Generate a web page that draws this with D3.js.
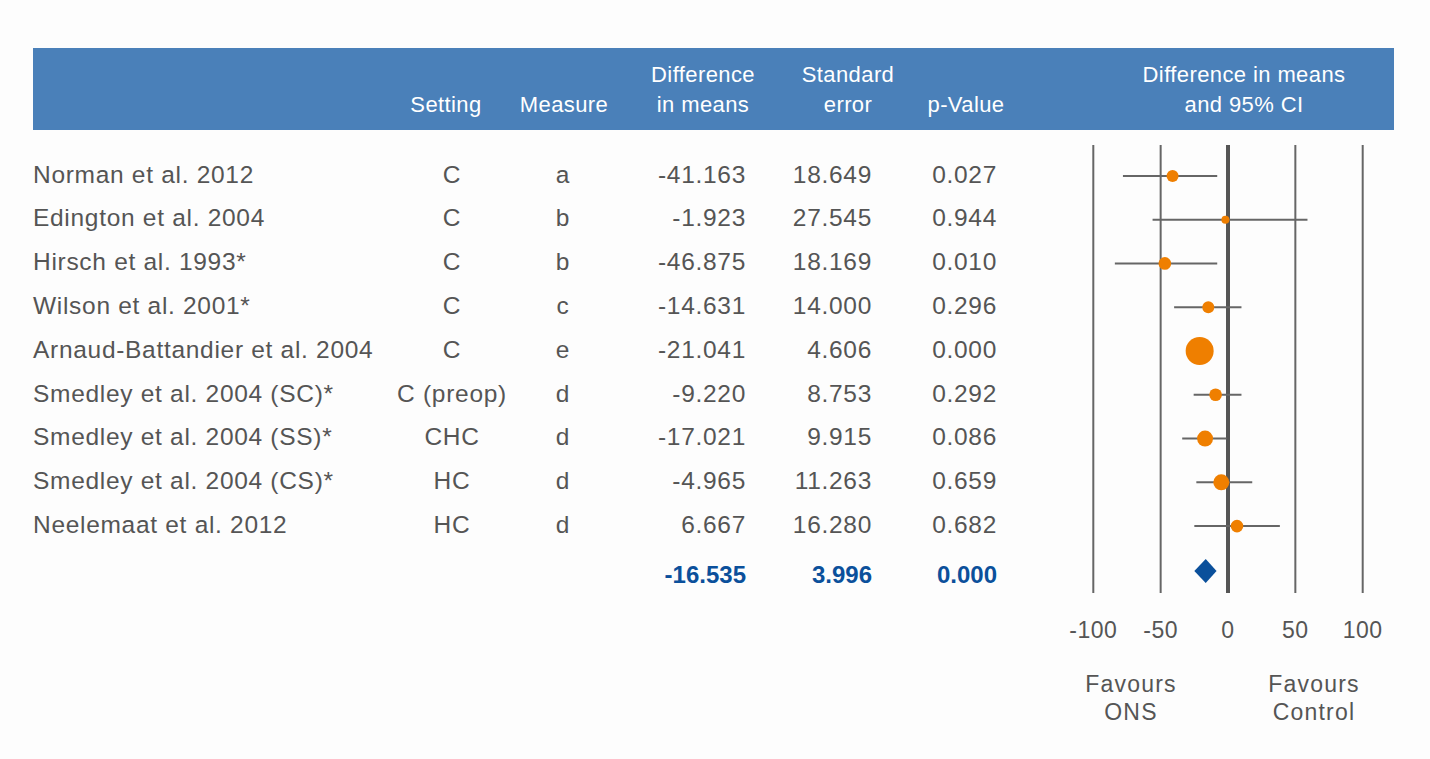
<!DOCTYPE html>
<html>
<head>
<meta charset="utf-8">
<script src="https://cdn.jsdelivr.net/npm/d3@7"></script>
<style>
  body { margin: 0; background: #fdfdfd; }
  svg { display: block; font-family: "Liberation Sans", Arial, sans-serif; }
</style>
</head>
<body>
<svg id="chart" width="1430" height="759"></svg>
<script>
// Data
const studies = [
  "Norman et al. 2012",
  "Edington et al. 2004",
  "Hirsch et al. 1993*",
  "Wilson et al. 2001*",
  "Arnaud-Battandier et al. 2004",
  "Smedley et al. 2004 (SC)*",
  "Smedley et al. 2004 (SS)*",
  "Smedley et al. 2004 (CS)*",
  "Neelemaat et al. 2012"
];
const settings = ["C", "C", "C", "C", "C", "C (preop)", "CHC", "HC", "HC"];
const measures = ["a", "b", "b", "c", "e", "d", "d", "d", "d"];
const diffs = [-41.163, -1.923, -46.875, -14.631, -21.041, -9.22, -17.021, -4.965, 6.667];
const stdErrs = [18.649, 27.545, 18.169, 14.0, 4.606, 8.753, 9.915, 11.263, 16.28];
const pValues = [0.027, 0.944, 0.01, 0.296, 0.0, 0.292, 0.086, 0.659, 0.682];
// CI limits
const lowers = [-78, -56, -84, -40, -30, -25.5, -34, -23.5, -25];
const uppers = [-8, 59, -8, 10, -12, 10, -1, 18, 38.5];
// relative weights (marker area)
const weights = [36, 16, 40, 36, 196, 40, 64, 64, 40];

const total = { diff: -16.535, se: 3.996, p: 0.0, lower: -25, upper: -8.5 };

const ticks = [-100, -50, 0, 50, 100];

const svg = d3.select("#chart");
// plain hyphen for the minus sign, like the original
const fmt = d3.formatLocale({ decimal: ".", thousands: ",", grouping: [3], currency: ["", ""], minus: "-" }).format(".3f");
const textGrey = "#555555";
const blue = "#0b509b";
const orange = "#ef7f00";

// Header band
svg.append("rect")
  .attr("x", 33).attr("y", 48)
  .attr("width", 1361).attr("height", 82)
  .attr("fill", "#4a80b9");

const header = [
  { lines: ["Setting"], x: 446 },
  { lines: ["Measure"], x: 564 },
  { lines: ["Difference", "in means"], x: 703 },
  { lines: ["Standard", "error"], x: 848 },
  { lines: ["p-Value"], x: 966 },
  { lines: ["Difference in means", "and 95% CI"], x: 1244 }
];

header.forEach((h) => {
  const t = svg.append("text")
    .attr("x", h.x)
    .attr("text-anchor", "middle")
    .attr("fill", "#ffffff")
    .style("font-size", "22px")
    .style("letter-spacing", "0.4px");
  h.lines.forEach((line, i) => {
    t.append("tspan")
      .attr("x", h.x)
      .attr("y", h.lines.length === 2 ? 82 + i * 30 : 112)
      .text(line);
  });
});

// Rows
const y = d3.scaleBand()
  .domain(d3.range(studies.length))
  .range([152, 546])
  .paddingInner(0);

const rowY = (i) => y(i) + y.bandwidth() / 2;
const totalY = 574;

const x = d3.scaleLinear().domain([-100, 100]).range([1093.3, 1362.7]);
const r = d3.scaleSqrt().domain([0, d3.max(weights)]).range([0, 14]);

const rowData = studies.map((s, i) => ({
  study: s, setting: settings[i], measure: measures[i],
  diff: diffs[i], se: stdErrs[i], p: pValues[i],
  lower: lowers[i], upper: uppers[i], weight: weights[i], i: i
}));

const rows = svg.append("g")
  .selectAll("g")
  .data(rowData)
  .join("g")
  .attr("transform", (d) => `translate(0,${rowY(d.i)})`)
  .style("font-size", "24.5px")
  .attr("fill", textGrey);

const cell = (sel, xPos, anchor, fn) =>
  sel.append("text")
    .attr("x", xPos)
    .attr("dy", "0.36em")
    .attr("text-anchor", anchor)
    .style("letter-spacing", "0.7px")
    .text(fn);

cell(rows, 33, "start", (d) => d.study);
cell(rows, 452, "middle", (d) => d.setting);
cell(rows, 563, "middle", (d) => d.measure);
cell(rows, 746, "end", (d) => fmt(d.diff));
cell(rows, 872, "end", (d) => fmt(d.se));
cell(rows, 997, "end", (d) => fmt(d.p));

// Summary row
const tot = svg.append("g")
  .attr("transform", `translate(0,${totalY})`)
  .style("font-size", "24px")
  .style("font-weight", "bold")
  .attr("fill", blue);
[[746, fmt(total.diff)], [872, fmt(total.se)], [997, fmt(total.p)]].forEach(([xp, t]) => {
  tot.append("text").attr("x", xp).attr("dy", "0.36em")
    .attr("text-anchor", "end").text(t);
});

// Forest plot vertical lines
svg.append("g")
  .selectAll("line")
  .data(ticks)
  .join("line")
  .attr("x1", (d) => x(d)).attr("x2", (d) => x(d))
  .attr("y1", 145).attr("y2", 593)
  .attr("stroke", (d) => (d === 0 ? "#555555" : "#666666"))
  .attr("stroke-width", (d) => (d === 0 ? 4 : 2));

// Error bars
svg.append("g")
  .selectAll("line")
  .data(rowData)
  .join("line")
  .attr("x1", (d) => x(d.lower)).attr("x2", (d) => x(d.upper))
  .attr("y1", (d) => rowY(d.i) + 2).attr("y2", (d) => rowY(d.i) + 2)
  .attr("stroke", "#666666")
  .attr("stroke-width", 2);

// Points
svg.append("g")
  .selectAll("circle")
  .data(rowData)
  .join("circle")
  .attr("cx", (d) => x(d.diff))
  .attr("cy", (d) => rowY(d.i) + 2)
  .attr("r", (d) => r(d.weight))
  .attr("fill", orange);

// Summary diamond
const dy = totalY - 3;
svg.append("path")
  .attr("d", `M${x(total.lower)},${dy} L${x(total.diff)},${dy - 12} L${x(total.upper)},${dy} L${x(total.diff)},${dy + 12} Z`)
  .attr("fill", blue);

// Axis tick labels
svg.append("g")
  .selectAll("text")
  .data(ticks)
  .join("text")
  .attr("x", (d) => x(d))
  .attr("y", 638)
  .attr("text-anchor", "middle")
  .attr("fill", textGrey)
  .style("font-size", "23px")
  .style("letter-spacing", "0.5px")
  .text((d) => d);

// Favours labels
[[1131, "Favours", "ONS"], [1314, "Favours", "Control"]].forEach(([xp, l1, l2]) => {
  const t = svg.append("text")
    .attr("text-anchor", "middle")
    .attr("fill", textGrey)
    .style("font-size", "23px")
    .style("letter-spacing", "1.2px");
  t.append("tspan").attr("x", xp).attr("y", 692).text(l1);
  t.append("tspan").attr("x", xp).attr("y", 720).text(l2);
});
</script>
</body>
</html>
